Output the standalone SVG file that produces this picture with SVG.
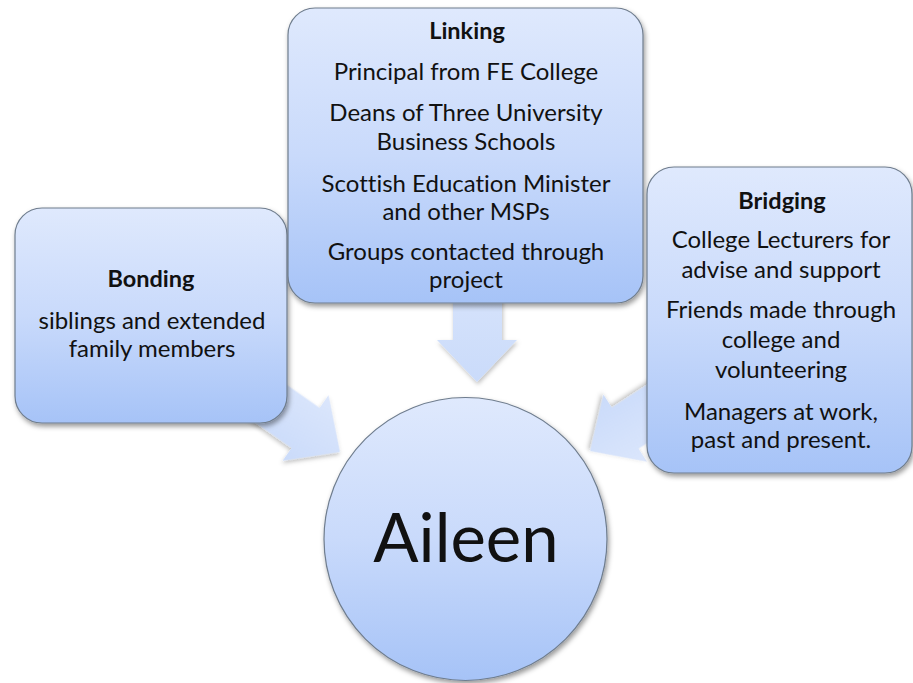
<svg xmlns="http://www.w3.org/2000/svg" width="913" height="683" viewBox="0 0 913 683">
  <style>
    .box { fill: url(#boxGrad); stroke: #6f7d8e; stroke-width: 1.2; filter: url(#shadow); }
    .arrow { fill: url(#arrowGrad); filter: url(#shadowSoft); }
    text { font-family: Lato, "Open Sans", "Liberation Sans", sans-serif; fill: #111; text-anchor: middle; font-variant-ligatures: none; }
    .title { font-weight: bold; font-size: 23.5px; }
    .body { font-size: 24px; }
    .big { font-size: 67px; }
  </style>
  <defs>
    <linearGradient id="boxGrad" x1="0" y1="0" x2="0" y2="1">
      <stop offset="0" stop-color="#dfe9fd"/>
      <stop offset="0.5" stop-color="#c9dafb"/>
      <stop offset="1" stop-color="#a6c3f7"/>
    </linearGradient>
    <linearGradient id="arrowGrad" x1="0" y1="0" x2="0" y2="1">
      <stop offset="0" stop-color="#dbe6fc"/>
      <stop offset="1" stop-color="#cadbfa"/>
    </linearGradient>
    <filter id="shadow" x="-10%" y="-10%" width="125%" height="125%">
      <feDropShadow dx="1.5" dy="3" stdDeviation="2.5" flood-color="#000" flood-opacity="0.4"/>
    </filter>
    <filter id="shadowSoft" x="-20%" y="-20%" width="140%" height="140%">
      <feDropShadow dx="1" dy="2.5" stdDeviation="2" flood-color="#000" flood-opacity="0.25"/>
    </filter>
  </defs>
  <rect width="913" height="683" fill="#fff"/>

  <g id="connectors">
    <polygon class="arrow" points="-130,-24.5 -42,-24.5 -42,-40 0,0 -42,40 -42,24.5 -130,24.5" transform="translate(340,452) rotate(35)"/>
    <polygon class="arrow" points="-130,-24.5 -42,-24.5 -42,-40 0,0 -42,40 -42,24.5 -130,24.5" transform="translate(590,451) rotate(147)"/>
    <polygon class="arrow" points="453,250 502,250 502,340 517,340 477,382 437,340 453,340"/>
  </g>

  <g id="node-aileen">
    <circle class="box" cx="465.5" cy="539" r="141.5"/>
    <text class="big" x="466" y="562">Aileen</text>
  </g>

  <g id="node-bonding">
    <rect class="box" x="15" y="208" width="272" height="215" rx="27"/>
    <text class="title" x="151" y="287">Bonding</text>
    <text class="body" x="152" y="329">siblings and extended</text>
    <text class="body" x="152" y="357">family members</text>
  </g>

  <g id="node-linking">
    <rect class="box" x="288" y="8" width="355" height="295" rx="27"/>
    <text class="title" x="467" y="39">Linking</text>
    <text class="body" x="466" y="80">Principal from FE College</text>
    <text class="body" x="466" y="121">Deans of Three University</text>
    <text class="body" x="466" y="150">Business Schools</text>
    <text class="body" x="466" y="192">Scottish Education Minister</text>
    <text class="body" x="466" y="220">and other MSPs</text>
    <text class="body" x="466" y="260">Groups contacted through</text>
    <text class="body" x="466" y="288">project</text>
  </g>

  <g id="node-bridging">
    <rect class="box" x="647" y="167" width="265" height="306" rx="27"/>
    <text class="title" x="782" y="209">Bridging</text>
    <text class="body" x="781" y="248">College Lecturers for</text>
    <text class="body" x="781" y="278">advise and support</text>
    <text class="body" x="781" y="318">Friends made through</text>
    <text class="body" x="781" y="348">college and</text>
    <text class="body" x="781" y="378">volunteering</text>
    <text class="body" x="781" y="420">Managers at work,</text>
    <text class="body" x="781" y="448">past and present.</text>
  </g>
</svg>
